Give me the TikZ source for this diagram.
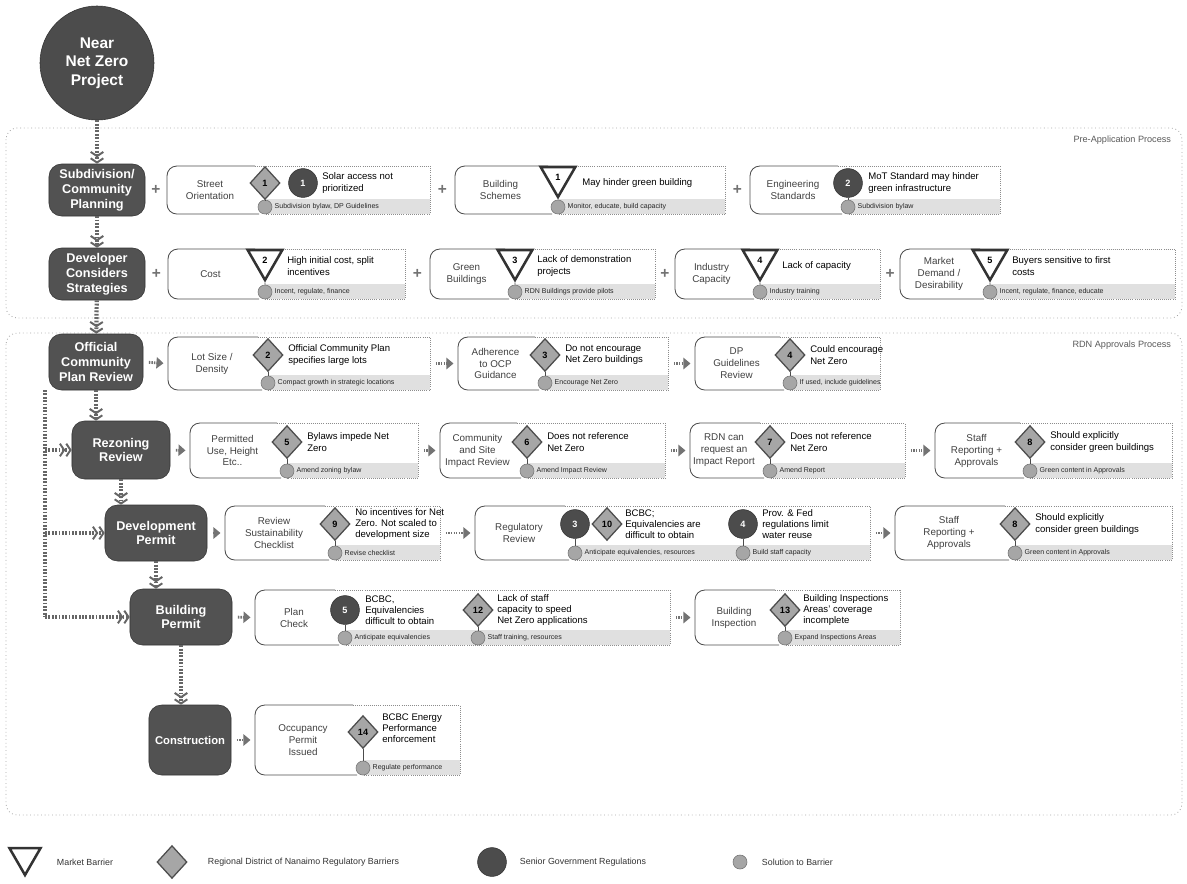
\documentclass[tikz,border=0pt]{standalone}
\usepackage{fontspec}
\setmainfont{Liberation Sans}
\usetikzlibrary{shapes.geometric,arrows.meta,fit}

% barrier box: name, left x, marker x, right x, top y, bottom y, topic, solution
\newcommand{\bframe}[8]{%
  \fill[solstrip] (#3,{#6-15}) rectangle (#4,#6);
  \node[itemframe, fit={(#2,#5) (#4,#6)}] (#1) {};
  \draw[itemdots] ({#3-10},#5) -- (#4,#5) -- (#4,#6) -- (#3,#6);
  \draw[itemleft] ({#3-10},#5) -- (#2,#5) -- (#2,#6) -- ({#3-6},#6);
  \node[topic] (#1-t) at ({(#2+#3)/2-6},{(#5+#6)/2}) {#7};
  \node[solcirc] (#1-s) at (#3,{#6-7}) {};
  \node[soltext] at (#1-s.east) {#8};
}

\begin{document}
\begin{tikzpicture}[x=0.025cm, y=-0.025cm,
    stage/.style={draw=black!80, fill=black!68, rounded corners=9pt, text=white,
      font=\bfseries\fontsize{9}{10.5}\selectfont, align=center, inner sep=1pt},
    flowline/.style={draw=black!60, line width=3pt, dash pattern=on 1.3pt off 1.1pt},
    flow/.style={flowline, -{Straight Barb[length=3pt,width=9pt,line width=1.4pt] Straight Barb[length=3pt,width=9pt,line width=1.4pt]}},
    gap/.style={draw=black!55, line width=2pt, dash pattern=on 1pt off 0.8pt,
      -{Triangle[length=5pt,width=8pt]}, shorten <=4pt, shorten >=3pt},
    joinplus/.style={font=\bfseries\fontsize{11}{11}\selectfont, text=black!55, inner sep=0},
    process/.style={draw=black!35, dotted, rounded corners=8pt, line width=0.6pt},
    proclabel/.style={anchor=north east, font=\fontsize{6.5}{8}\selectfont, text=black!65},
    itemframe/.style={inner sep=0},
    itemdots/.style={draw=black!45, densely dotted, line width=0.5pt},
    itemleft/.style={draw=black!70, line width=0.6pt, rounded corners=7pt},
    solstrip/.style={fill=black!12},
    solcirc/.style={circle, fill=black!35, draw=black!55, minimum size=0.35cm, inner sep=0},
    soltext/.style={anchor=west, font=\fontsize{5}{6}\selectfont, inner sep=1.5pt, text=black!85},
    topic/.style={align=center, font=\fontsize{7}{8.5}\selectfont, text=black!75},
    bartext/.style={anchor=west, align=left, font=\fontsize{6.8}{8}\selectfont, inner sep=0},
    rdn/.style={diamond, draw=black!70, fill=black!35, line width=0.9pt, minimum width=0.75cm,
      minimum height=0.82cm, inner sep=0, font=\bfseries\fontsize{6.5}{7}\selectfont},
    gov/.style={circle, draw=black!80, fill=black!70, minimum size=0.72cm, inner sep=0,
      text=white, font=\bfseries\fontsize{6.5}{7}\selectfont},
    mkt/.style={regular polygon, regular polygon sides=3, shape border rotate=180, draw=black!80,
      line width=1.8pt, fill=white, minimum size=1.0cm, inner sep=0,
      font=\bfseries\fontsize{6.5}{7}\selectfont},
    stemline/.style={draw=black!70, line width=0.6pt},
    legtext/.style={anchor=west, font=\fontsize{6.3}{7}\selectfont, text=black!80}
  ]
  %\draw[very thin,lightgray] (0,0) grid[step=50] (1187,883);
  \useasboundingbox (0,0) rectangle (1187,883);

  % process frames
  \draw[process] (6,128) rectangle (1182,318);
  \node[proclabel] at (1176,131) {Pre-Application Process};
  \draw[process] (6,333) rectangle (1182,815);
  \node[proclabel] at (1176,336) {RDN Approvals Process};

  % stages
  \node[circle, fill=black!70, draw=black!80, minimum size=2.85cm, text=white, align=center,
    font=\bfseries\fontsize{11}{13}\selectfont] (nnz) at (97,63) {Near\\Net Zero\\Project};
  \node[stage, minimum width=2.4cm, minimum height=1.3cm] (sub) at (97,190) {Subdivision/\\Community\\Planning};
  \node[stage, minimum width=2.4cm, minimum height=1.3cm] (dev) at (97,274) {Developer\\Considers\\Strategies};
  \node[stage, minimum width=2.35cm, minimum height=1.4cm] (ocp) at (96,362) {Official\\Community\\Plan Review};
  \node[stage, minimum width=2.45cm, minimum height=1.45cm] (rz) at (121,450) {Rezoning\\Review};
  \node[stage, minimum width=2.55cm, minimum height=1.4cm] (dp) at (156,533) {Development\\Permit};
  \node[stage, minimum width=2.55cm, minimum height=1.4cm] (bp) at (181,617) {Building\\Permit};
  \node[stage, minimum width=2.05cm, minimum height=1.75cm, font=\bfseries\fontsize{8}{9}\selectfont] (con) at (190,740) {Construction};

  % row 1
  \bframe{r1a}{167}{265}{430}{166}{214}{Street\\Orientation}{Subdivision bylaw, DP Guidelines}
  \node[rdn] (r1a-m) at (265,183) {1};
  \node[gov] (r1a-g) at (303,183) {1};
  \node[bartext] at (322,183) {Solar access not\\prioritized};
  \bframe{r1b}{455}{558}{725}{166}{214}{Building\\Schemes}{Monitor, educate, build capacity}
  \node[mkt] (r1b-m) at (558,177) {1};
  \node[bartext] at (582,183) {May hinder green building};
  \bframe{r1c}{750}{848}{1000}{166}{214}{Engineering\\Standards}{Subdivision bylaw}
  \node[gov] (r1c-m) at (848,183) {2};
  \node[bartext] at (868,183) {MoT Standard may hinder\\green infrastructure};

  % row 2
  \bframe{r2a}{168}{265}{405}{249}{299}{Cost}{Incent, regulate, finance}
  \node[mkt] (r2a-m) at (265,260) {2};
  \node[bartext] at (287,266) {High initial cost, split\\incentives};
  \bframe{r2b}{430}{515}{655}{249}{299}{Green\\Buildings}{RDN Buildings provide pilots}
  \node[mkt] (r2b-m) at (515,260) {3};
  \node[bartext] at (537,266) {Lack of demonstration\\projects};
  \bframe{r2c}{675}{760}{880}{249}{299}{Industry\\Capacity}{Industry training}
  \node[mkt] (r2c-m) at (760,260) {4};
  \node[bartext] at (782,266) {Lack of capacity};
  \bframe{r2d}{900}{990}{1175}{249}{299}{Market\\Demand /\\Desirability}{Incent, regulate, finance, educate}
  \node[mkt] (r2d-m) at (990,260) {5};
  \node[bartext] at (1012,266) {Buyers sensitive to first\\costs};

  % row 3
  \bframe{r3a}{168}{268}{430}{337}{390}{Lot Size /\\Density}{Compact growth in strategic locations}
  \node[rdn] (r3a-m) at (268,355) {2};
  \node[bartext] at (288,355) {Official Community Plan\\specifies large lots};
  \bframe{r3b}{458}{545}{668}{337}{390}{Adherence\\to OCP\\Guidance}{Encourage Net Zero}
  \node[rdn] (r3b-m) at (545,355) {3};
  \node[bartext] at (565,355) {Do not encourage\\Net Zero buildings};
  \bframe{r3c}{695}{790}{880}{337}{390}{DP\\Guidelines\\Review}{If used, include guidelines}
  \node[rdn] (r3c-m) at (790,355) {4};
  \node[bartext] at (810,355) {Could encourage\\Net Zero};

  % row 4
  \bframe{r4a}{190}{287}{418}{423}{478}{Permitted\\Use, Height\\Etc..}{Amend zoning bylaw}
  \node[rdn] (r4a-m) at (287,442) {5};
  \node[bartext] at (307,442) {Bylaws impede Net\\Zero};
  \bframe{r4b}{440}{527}{665}{423}{478}{Community\\and Site\\Impact Review}{Amend Impact Review}
  \node[rdn] (r4b-m) at (527,442) {6};
  \node[bartext] at (547,442) {Does not reference\\Net Zero};
  \bframe{r4c}{690}{770}{905}{423}{478}{RDN can\\request an\\Impact Report}{Amend Report}
  \node[rdn] (r4c-m) at (770,442) {7};
  \node[bartext] at (790,442) {Does not reference\\Net Zero};
  \bframe{r4d}{935}{1030}{1172}{423}{478}{Staff\\Reporting +\\Approvals}{Green content in Approvals}
  \node[rdn] (r4d-m) at (1030,442) {8};
  \node[bartext] at (1050,442) {Should explicitly\\consider green buildings};

  % row 5
  \bframe{r5a}{225}{335}{440}{506}{560}{Review\\Sustainability\\Checklist}{Revise checklist}
  \node[rdn] (r5a-m) at (335,524) {9};
  \node[bartext] at (355,524) {No incentives for Net\\Zero. Not scaled to\\development size};
  \bframe{r5b}{475}{575}{870}{506}{560}{Regulatory\\Review}{Anticipate equivalencies, resources}
  \node[gov] (r5b-m) at (575,524) {3};
  \node[rdn] (r5b-m2) at (607,524) {10};
  \node[bartext] at (625,524) {BCBC;\\Equivalencies are\\difficult to obtain};
  \node[gov] (r5b-g2) at (743,524) {4};
  \node[bartext] at (762,524) {Prov. \& Fed\\regulations limit\\water reuse};
  \node[solcirc] (r5b-s2) at (743,553) {};
  \node[soltext] at (r5b-s2.east) {Build staff capacity};
  \bframe{r5c}{895}{1015}{1172}{506}{560}{Staff\\Reporting +\\Approvals}{Green content in Approvals}
  \node[rdn] (r5c-m) at (1015,524) {8};
  \node[bartext] at (1035,524) {Should explicitly\\consider green buildings};

  % row 6
  \bframe{r6a}{255}{345}{670}{590}{645}{Plan\\Check}{Anticipate equivalencies}
  \node[gov] (r6a-m) at (345,610) {5};
  \node[bartext] at (365,610) {BCBC,\\Equivalencies\\difficult to obtain};
  \node[rdn] (r6a-m2) at (478,610) {12};
  \node[bartext] at (497,610) {Lack of staff\\capacity to speed\\Net Zero applications};
  \node[solcirc] (r6a-s2) at (478,638) {};
  \node[soltext] at (r6a-s2.east) {Staff training, resources};
  \bframe{r6b}{695}{785}{900}{590}{645}{Building\\Inspection}{Expand Inspections Areas}
  \node[rdn] (r6b-m) at (785,610) {13};
  \node[bartext] at (803,610) {Building Inspections\\Areas' coverage\\incomplete};

  % row 7
  \bframe{r7a}{255}{363}{460}{705}{775}{Occupancy\\Permit\\Issued}{Regulate performance}
  \node[rdn] (r7a-m) at (363,732) {14};
  \node[bartext] at (382,728) {BCBC Energy\\Performance\\enforcement};

  % marker stems
  \foreach \b in {r1a,r1b,r1c,r2a,r2b,r2c,r2d,r3a,r3b,r3c,r4a,r4b,r4c,r4d,r5a,r5b,r5c,r6a,r6b,r7a}
    \draw[stemline] (\b-m) -- (\b-s);
  \draw[stemline] (r5b-g2) -- (r5b-s2);
  \draw[stemline] (r6a-m2) -- (r6a-s2);

  % stage flow
  \draw[flow] (nnz) -- (sub);
  \draw[flow] (sub) -- (dev);
  \draw[flow] (dev) -- (ocp);
  \draw[flow] (ocp.south) -- (ocp.south |- rz.north);
  \draw[flow] (rz.south) -- (rz.south |- dp.north);
  \draw[flow] (dp.south) -- (dp.south |- bp.north);
  \draw[flow] (bp.south) -- (bp.south |- con.north);
  \coordinate (byp) at (45,390);
  \draw[flowline] (byp) -- (byp |- bp.west);
  \draw[flow] (byp |- rz.west) -- (rz.west);
  \draw[flow] (byp |- dp.west) -- (dp.west);
  \draw[flow] (byp |- bp.west) -- (bp.west);

  % joins between boxes
  \path (sub.east) -- node[joinplus]{+} (r1a.west);
  \path (r1a.east) -- node[joinplus]{+} (r1b.west);
  \path (r1b.east) -- node[joinplus]{+} (r1c.west);
  \path (dev.east) -- node[joinplus]{+} (r2a.west);
  \path (r2a.east) -- node[joinplus]{+} (r2b.west);
  \path (r2b.east) -- node[joinplus]{+} (r2c.west);
  \path (r2c.east) -- node[joinplus]{+} (r2d.west);
  \draw[gap] (ocp.east) -- (r3a.west);
  \draw[gap] (r3a.east) -- (r3b.west);
  \draw[gap] (r3b.east) -- (r3c.west);
  \draw[gap] (rz.east) -- (r4a.west);
  \draw[gap] (r4a.east) -- (r4b.west);
  \draw[gap] (r4b.east) -- (r4c.west);
  \draw[gap] (r4c.east) -- (r4d.west);
  \draw[gap] (dp.east) -- (r5a.west);
  \draw[gap] (r5a.east) -- (r5b.west);
  \draw[gap] (r5b.east) -- (r5c.west);
  \draw[gap] (bp.east) -- (r6a.west);
  \draw[gap] (r6a.east) -- (r6b.west);
  \draw[gap] (con.east) -- (r7a.west);

  % legend
  \node[mkt, minimum size=0.9cm] (lg1) at (25,857) {};
  \node[legtext] at (52,862) {Market Barrier};
  \node[rdn] (lg2) at (172,862) {};
  \node[legtext] at (203,862) {Regional District of Nanaimo Regulatory Barriers};
  \node[gov] (lg3) at (492,862) {};
  \node[legtext] at (515,862) {Senior Government Regulations};
  \node[solcirc] (lg4) at (740,862) {};
  \node[legtext] at (757,862) {Solution to Barrier};
\end{tikzpicture}
\end{document}
